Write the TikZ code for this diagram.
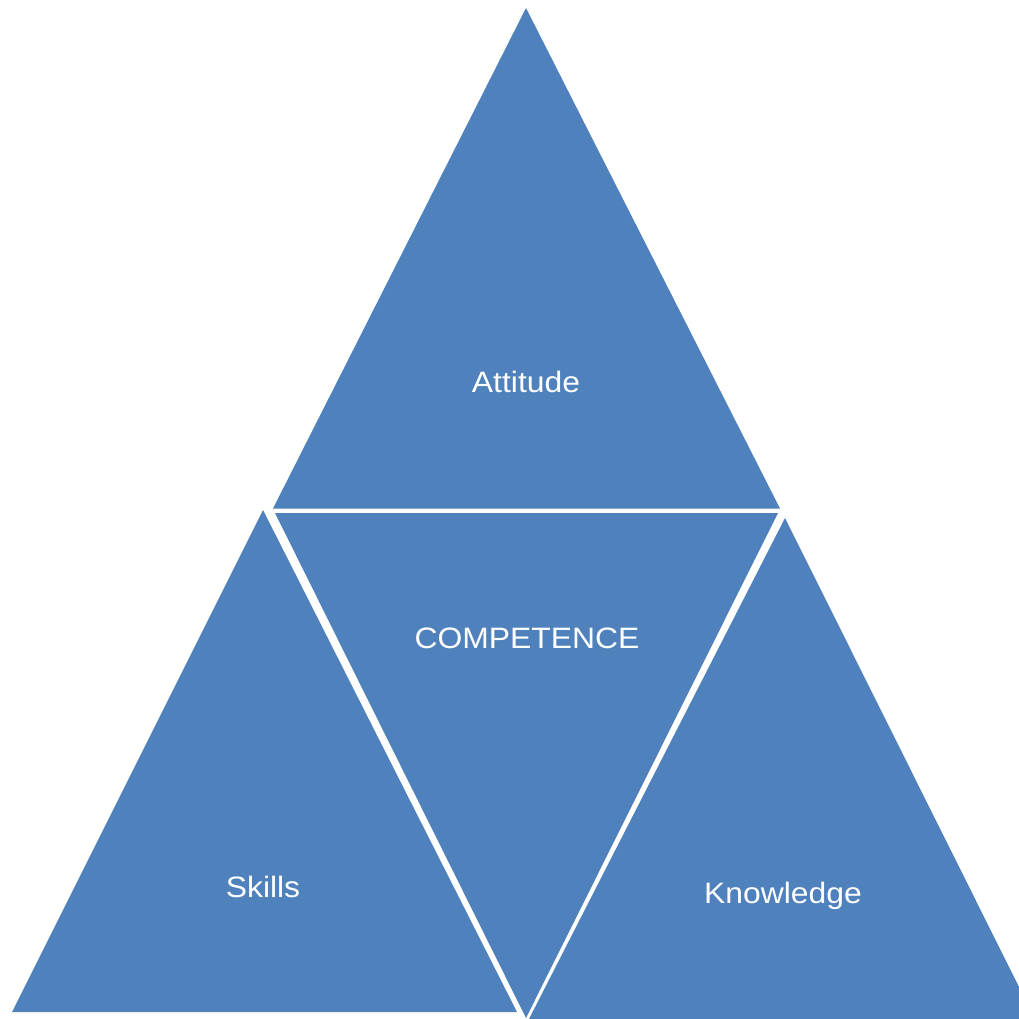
\documentclass[tikz,border=0pt]{standalone}
\usepackage{fontspec}
\setmainfont{Liberation Sans}
\definecolor{triblue}{HTML}{4F81BD}
\begin{document}
\begin{tikzpicture}[x=1pt,y=-1pt,
  tri/.style={fill=triblue,draw=none},
  lbl/.style={text=white,anchor=base,inner sep=0pt,font=\fontsize{29.5}{30}\selectfont}]
\useasboundingbox (0,0) rectangle (1019,1018);
\clip (0,0) rectangle (1019,1018);
% top triangle
\coordinate (tA) at (526,8);
\coordinate (tL) at (273,508.5);
\coordinate (tR) at (780,508.5);
\fill[tri] (tA) -- (tL) -- (tR) -- cycle;
% middle inverted triangle
\coordinate (mL) at (275,513);
\coordinate (mR) at (778,513);
\coordinate (mB) at (526,1018);
\fill[tri] (mL) -- (mR) -- (mB) -- cycle;
% left triangle
\coordinate (lA) at (263,510);
\coordinate (lL) at (12,1012);
\coordinate (lR) at (517,1012);
\fill[tri] (lA) -- (lL) -- (lR) -- cycle;
% right triangle
\coordinate (rA) at (785,518);
\coordinate (rL) at (529,1019);
\coordinate (rR) at (1035,1019);
\fill[tri] (rA) -- (rL) -- (rR) -- cycle;
% labels
\node[lbl] (att) at (526,392) {\scalebox{1.08}[1]{Attitude}};
\node[lbl] (comp) at (527,648) {\scalebox{1.08}[1]{COMPETENCE}};
\node[lbl] (sk) at (263,897) {\scalebox{1.08}[1]{Skills}};
\node[lbl] (kn) at (783,903) {\scalebox{1.08}[1]{Knowledge}};
\end{tikzpicture}
\end{document}
